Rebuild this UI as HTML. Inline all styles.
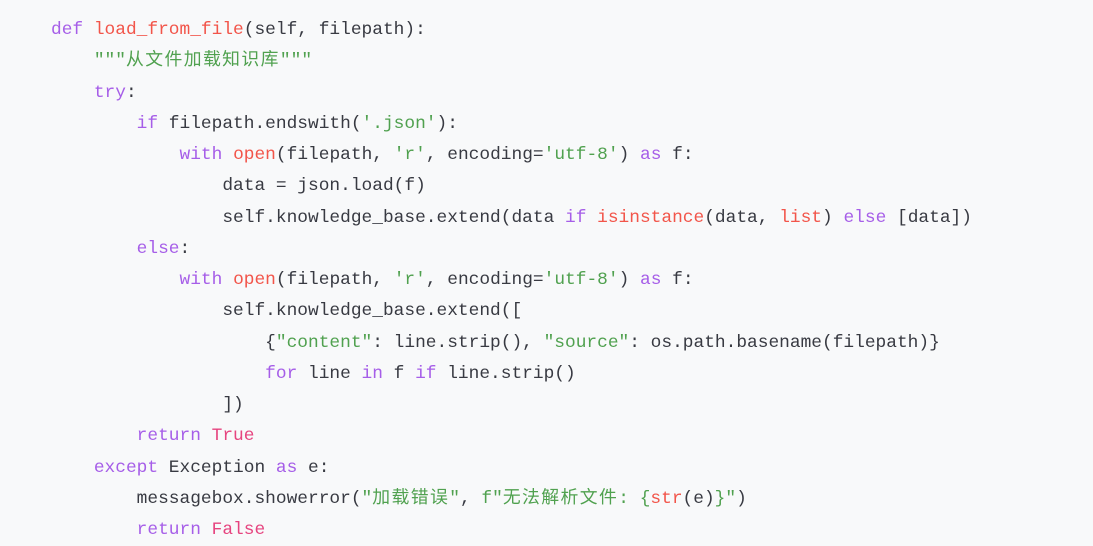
<!DOCTYPE html>
<html><head><meta charset="utf-8"><style>
html,body{margin:0;padding:0;background:#f8f9fa;width:1093px;height:536px;overflow:hidden}
pre{margin:0;position:absolute;left:51px;top:15px;font-family:"Liberation Mono","Noto Sans CJK SC",monospace;font-size:17.85px;line-height:31.25px;color:#383a42}
.k{color:#a65ee8}.f{color:#f2554a}.s{color:#50a14f}.b{color:#e6447f}
.c{letter-spacing:1.4px}
</style></head><body><pre><span class="k">def</span> <span class="f">load_from_file</span>(self, filepath):
    <span class="s">"""<span class="c">从文件加载知识库</span>"""</span>
    <span class="k">try</span>:
        <span class="k">if</span> filepath.endswith(<span class="s">'.json'</span>):
            <span class="k">with</span> <span class="f">open</span>(filepath, <span class="s">'r'</span>, encoding=<span class="s">'utf-8'</span>) <span class="k">as</span> f:
                data = json.load(f)
                self.knowledge_base.extend(data <span class="k">if</span> <span class="f">isinstance</span>(data, <span class="f">list</span>) <span class="k">else</span> [data])
        <span class="k">else</span>:
            <span class="k">with</span> <span class="f">open</span>(filepath, <span class="s">'r'</span>, encoding=<span class="s">'utf-8'</span>) <span class="k">as</span> f:
                self.knowledge_base.extend([
                    {<span class="s">"content"</span>: line.strip(), <span class="s">"source"</span>: os.path.basename(filepath)}
                    <span class="k">for</span> line <span class="k">in</span> f <span class="k">if</span> line.strip()
                ])
        <span class="k">return</span> <span class="b">True</span>
    <span class="k">except</span> Exception <span class="k">as</span> e:
        messagebox.showerror(<span class="s">"<span class="c">加载错误</span>"</span>, <span class="s">f"<span class="c">无法解析文件</span>: {</span><span class="f">str</span>(e)<span class="s">}"</span>)
        <span class="k">return</span> <span class="b">False</span></pre></body></html>
